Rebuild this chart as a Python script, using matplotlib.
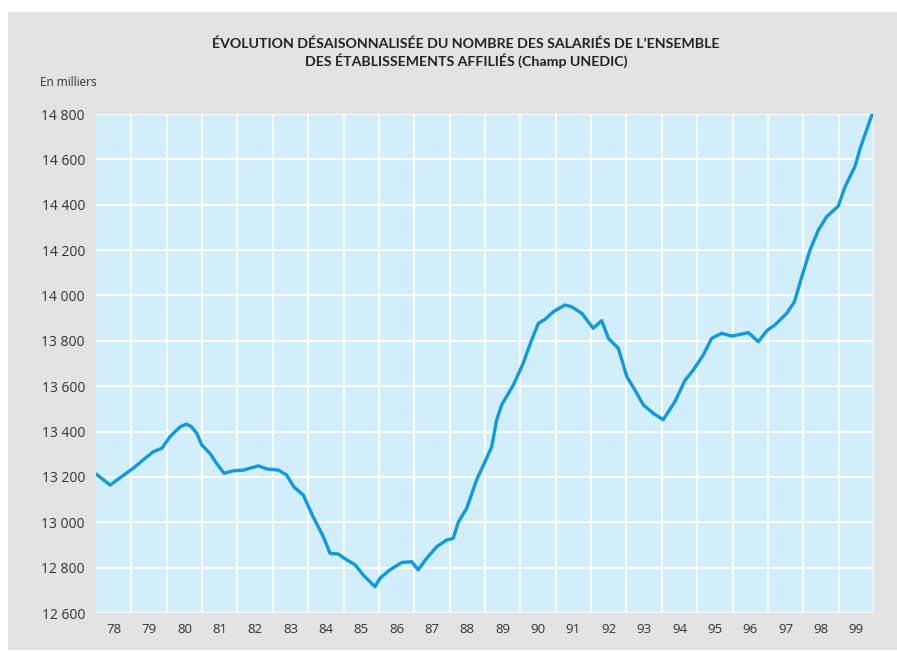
import matplotlib
matplotlib.use("Agg")
import matplotlib.pyplot as plt
from matplotlib.patches import Rectangle
import numpy as np

# Effectifs salariés (en milliers), données CVS
periods = [
    1978.00, 1978.40, 1978.59, 1979.05, 1979.39, 1979.62, 1979.86, 1980.09,
    1980.38, 1980.56, 1980.70, 1980.85, 1980.99, 1981.22, 1981.41, 1981.62,
    1981.88, 1982.17, 1982.59, 1982.83, 1983.16, 1983.39, 1983.60, 1983.86,
    1984.14, 1984.43, 1984.62, 1984.85, 1985.09, 1985.33, 1985.56, 1985.89,
    1986.03, 1986.31, 1986.65, 1986.93, 1987.11, 1987.35, 1987.64, 1987.92,
    1988.10, 1988.25, 1988.48, 1988.77, 1989.00, 1989.19, 1989.33, 1989.47,
    1989.80, 1990.08, 1990.32, 1990.51, 1990.70, 1990.93, 1991.26, 1991.45,
    1991.74, 1992.06, 1992.30, 1992.49, 1992.77, 1993.01, 1993.24, 1993.48,
    1993.76, 1994.04, 1994.37, 1994.66, 1994.89, 1995.17, 1995.41, 1995.69,
    1995.98, 1996.45, 1996.73, 1996.97, 1997.20, 1997.53, 1997.75, 1997.93,
    1998.19, 1998.43, 1998.66, 1998.99, 1999.18, 1999.46, 1999.61, 1999.94,
]
salaries = [
    13213, 13164, 13186, 13238, 13282, 13311, 13326, 13377,
    13421, 13433, 13421, 13392, 13341, 13304, 13260, 13216,
    13227, 13230, 13249, 13235, 13230, 13208, 13155, 13120,
    13024, 12936, 12863, 12860, 12834, 12812, 12767, 12716,
    12753, 12790, 12823, 12826, 12790, 12841, 12893, 12922,
    12929, 13002, 13061, 13190, 13267, 13333, 13451, 13517,
    13605, 13701, 13804, 13877, 13895, 13928, 13958, 13950,
    13921, 13855, 13889, 13811, 13767, 13642, 13583, 13517,
    13480, 13452, 13532, 13627, 13671, 13737, 13811, 13833,
    13821, 13836, 13796, 13845, 13870, 13921, 13972, 14068,
    14200, 14289, 14347, 14394, 14479, 14568, 14649, 14796,
]

years = list(range(1978, 2000))
year_labels = ["78", "79", "80", "81", "82", "83", "84", "85", "86", "87", "88",
               "89", "90", "91", "92", "93", "94", "95", "96", "97", "98", "99"]
y_ticks = [12600, 12800, 13000, 13200, 13400, 13600, 13800, 14000, 14200,
           14400, 14600, 14800]
y_labels = ["12 600", "12 800", "13 000", "13 200", "13 400", "13 600",
            "13 800", "14 000", "14 200", "14 400", "14 600", "14 800"]

title = ("ÉVOLUTION DÉSAISONNALISÉE DU NOMBRE DES SALARIÉS DE L’ENSEMBLE\n"
         "DES ÉTABLISSEMENTS AFFILIÉS (Champ UNEDIC)")
unit = "En milliers"

W, H = 897, 651
fig = plt.figure(figsize=(W / 100, H / 100), dpi=100, facecolor="white")

# grey panel behind the chart
fig.patches.append(Rectangle((8 / W, 1 / H), (W - 8) / W, (H - 13) / H,
                             transform=fig.transFigure, facecolor="#e3e3e3",
                             edgecolor="none", zorder=-5))

ax = fig.add_axes([96 / W, 1 - 613 / H, (874 - 96) / W, (613 - 114) / H])
ax.set_zorder(2)
ax.set_facecolor("#d3eefb")
for s in ax.spines.values():
    s.set_visible(False)

ax.set_xlim(1978, 2000)
ax.set_ylim(12600, 14800)

# gridlines at year boundaries, labels centred on each year
ax.set_xticks(years[1:] + [2000])
ax.set_xticks([y + 0.5 for y in years], minor=True)
ax.set_xticklabels([])
ax.set_xticklabels(year_labels, minor=True)
ax.tick_params(axis="x", which="both", length=0, pad=7, labelsize=9.5,
               labelcolor="#333333")
ax.set_yticks(y_ticks)
ax.set_yticklabels(y_labels)
ax.tick_params(axis="y", length=0, pad=8, labelsize=10, labelcolor="#333333")
for lbl in ax.get_xticklabels(minor=True) + ax.get_yticklabels():
    lbl.set_family("Open Sans")

ax.grid(True, which="major", color="white", linewidth=1.3)
ax.set_axisbelow(True)

ax.plot(periods, salaries, color="#0f9ae0", linewidth=2.4,
        solid_joinstyle="round", solid_capstyle="round", zorder=3)

fig.text(466 / W, 1 - 37 / H, title, ha="center", va="top", fontsize=10.2,
         family="Lato", weight="bold", color="#222222", linespacing=1.3)
fig.text(40 / W, 1 - 83 / H, unit, ha="left", va="center", fontsize=8.5,
         family="Open Sans", color="#333333")

fig.savefig("out.png", dpi=100, facecolor=fig.get_facecolor())
